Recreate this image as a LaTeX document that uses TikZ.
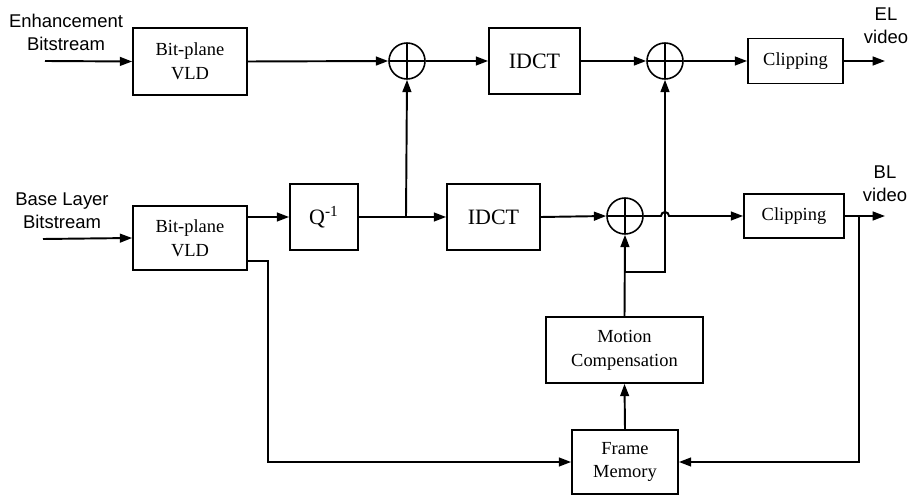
\documentclass[tikz,border=0pt]{standalone}
\usepackage{fontspec}
\setmainfont{Liberation Serif}
\setsansfont{Liberation Sans}
\usetikzlibrary{arrows.meta,calc}

\def\px{0.02cm}
\tikzset{block/.style={draw, line width=1pt, inner sep=0pt, align=center,
        font=\fontsize{10.5}{13.5}\selectfont},
    adder/.style={draw, circle, line width=0.9pt, minimum size=36*\px, inner sep=0pt,
        path picture={\draw[line width=0.9pt] (path picture bounding box.north) -- (path picture bounding box.south)
            (path picture bounding box.west) -- (path picture bounding box.east);}},
    signal/.style={line width=1.1pt, -{Triangle[length=7pt,width=5pt]}},
    label/.style={align=center, inner sep=0pt, font=\sffamily\fontsize{10.5}{13}\selectfont}}

\begin{document}
\begin{tikzpicture}[x=\px, y=-\px]
        \useasboundingbox (0,0) rectangle (909,496);

        % Enhancement layer
        \node[block, minimum width=114*\px, minimum height=67*\px] (vldE) at (190,61.5) {Bit-plane\\VLD};
        \node[adder] (sumA) at (407,61) {};
        \node[block, minimum width=91*\px, minimum height=66*\px, font=\fontsize{12.5}{15}\selectfont] (idctE) at (534.5,61) {IDCT};
        \node[adder] (sumB) at (665,61) {};
        \node[block, minimum width=95*\px, minimum height=45*\px] (clipE) at (795.5,61) {Clipping};

        % Base layer
        \node[block, minimum width=114*\px, minimum height=64*\px] (vldB) at (190,238) {Bit-plane\\VLD};
        \node[block, minimum width=68*\px, minimum height=66*\px, font=\fontsize{12.5}{15}\selectfont] (qinv) at (324,217) {Q\textsuperscript{-1}};
        \node[block, minimum width=93*\px, minimum height=66*\px, font=\fontsize{12.5}{15}\selectfont] (idctB) at (493.5,217) {IDCT};
        \node[adder] (sumC) at (625,216) {};
        \node[block, minimum width=100*\px, minimum height=44*\px] (clipB) at (794,216) {Clipping};
        \node[block, minimum width=157*\px, minimum height=66*\px] (mc) at (624.5,350) {Motion\\Compensation};
        \node[block, minimum width=106*\px, minimum height=64*\px] (fm) at (625,462) {Frame\\Memory};

        % Texts
        \node[label] (inElabel) at (66,32) {Enhancement\\Bitstream};
        \node[label] (inBlabel) at (62,211) {Base Layer\\Bitstream};
        \node[label] (outElabel) at (886,26) {EL\\video};
        \node[label] (outBlabel) at (885,184) {BL\\video};

        % Free ends and branch points
        \coordinate (inE) at (45,61);
        \coordinate (inB) at (43,239);
        \coordinate (outE) at (885,61);
        \coordinate (outB) at (885,216);
        \coordinate (brQ) at (406,217);
        \coordinate (brM) at (625,272);
        \coordinate (brB) at (859,216);

        % Enhancement path
        \draw[signal] (inE) -- (vldE.west);
        \draw[signal] (vldE.east) -- (sumA.west);
        \draw[signal] (sumA.east) -- (idctE.west);
        \draw[signal] (idctE.east) -- (sumB.west);
        \draw[signal] (sumB.east) -- (clipE.west);
        \draw[signal] (clipE.east) -- (outE);

        % Base path
        \draw[signal] (inB) -- (vldB.west);
        \draw[signal] (vldB.east |- qinv.west) -- (qinv.west);
        \draw[signal] (qinv.east) -- (idctB.west);
        \draw[signal] (brQ) -- (sumA.south);
        \draw[signal] (idctB.east) -- (sumC.west);
        \draw[signal] (sumC.east) -- ($(sumB.south |- sumC.east)+(-4,0)$)
            arc (180:360:4) -- (clipB.west);
        \draw[signal] (clipB.east) -- (outB);

        % Feedback
        \draw[signal] (brB) |- (fm.east);
        \draw[signal] ([yshift=-0.46cm]vldB.east) -- ++(20,0) |- (fm.west);
        \draw[signal] (fm.north) -- (mc.south);
        \draw[signal] (mc.north) -- (sumC.south);
        \draw[signal] (brM) -| (sumB.south);
    \end{tikzpicture}
\end{document}
